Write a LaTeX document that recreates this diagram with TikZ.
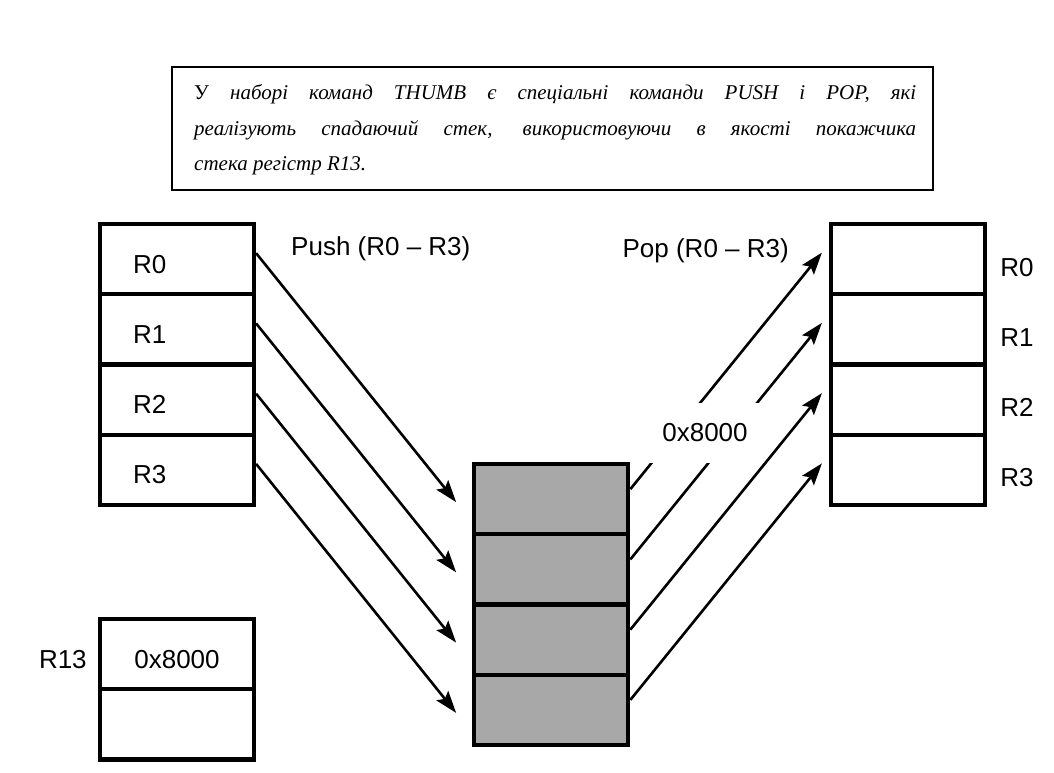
\documentclass[tikz,border=0pt]{standalone}
\usepackage{fontspec}
\setmainfont{Liberation Serif}
\newfontfamily\lblfont{Liberation Sans}
\usetikzlibrary{arrows.meta}
\definecolor{memgray}{RGB}{168,168,168}
\begin{document}
\begin{tikzpicture}[x=1pt,y=-1pt,
  cell/.style={draw, line width=4.2pt, minimum width=154pt, minimum height=70.25pt, inner sep=0pt},
  memcell/.style={cell, fill=memgray},
  lbl/.style={font=\lblfont\fontsize{26}{30}\selectfont, inner sep=0pt},
  notetext/.style={anchor=base west, inner sep=0pt, font=\fontsize{21}{25}\selectfont},
  arr/.style={line width=2.6pt, -{Stealth[length=22pt,width=15pt,inset=4pt]}},
]
\useasboundingbox (0,0) rectangle (1054,772);

% note box
\node[draw, line width=2.2pt, minimum width=761pt, minimum height=123pt, inner sep=0pt] (note) at (552.5,128.5) {};
\node[notetext] (t1) at (194,99) {\makebox[722pt][s]{У \itshape наборі команд THUMB є спеціальні команди PUSH і POP, які}};
\node[notetext] (t2) at (194,135) {\makebox[722pt][s]{\itshape реалізують спадаючий стек, використовуючи в якості покажчика}};
\node[notetext] (t3) at (194,170) {\itshape стека регістр R13.};

% registers before push
\foreach \i/\y in {0/259.125,1/329.375,2/399.625,3/469.875}{
  \node[cell] (L\i) at (177,\y) {};
  \node[lbl, anchor=west] (lR\i) at ([xshift=35pt,yshift=-5pt]L\i.west) {R\i};
}
% registers after pop
\foreach \i/\y in {0/259.125,1/329.375,2/399.625,3/469.875}{
  \node[cell] (R\i) at (908,\y) {};
  \node[lbl, anchor=west] (rR\i) at ([xshift=13pt,yshift=-8pt]R\i.east) {R\i};
}
% stack memory
\foreach \i/\y in {0/499.125,1/569.375,2/639.625,3/709.875}{
  \node[memcell] (M\i) at (551.25,\y) {};
}
% stack pointer
\node[cell] (S0) at (177,654.1) {};
\node[cell] (S1) at (177,724.4) {};
\node[lbl] (sp) at ([yshift=-5pt]S0.center) {0x8000};
\node[lbl, anchor=east] (r13) at ([xshift=-11pt,yshift=-5pt]S0.west) {R13};

% operation titles
\node[lbl, anchor=west] (push) at (291,249) {Push (R0 – R3)};
\node[lbl, anchor=east] (pop) at (789,251) {Pop (R0 – R3)};

% push arrows
\foreach \i in {0,...,3}{
  \draw[arr] ([yshift=6pt]L\i.east) -- ([xshift=-16pt,yshift=-3pt]M\i.west);
}
% pop arrows
\foreach \i in {0,...,3}{
  \draw[arr] ([yshift=10pt]M\i.east) -- ([xshift=-7pt,yshift=6.5pt]R\i.west);
}

% address label over the pop arrows
\node[lbl, fill=white, minimum width=114pt, minimum height=60pt] (addr) at (705,433) {0x8000};
\end{tikzpicture}
\end{document}
